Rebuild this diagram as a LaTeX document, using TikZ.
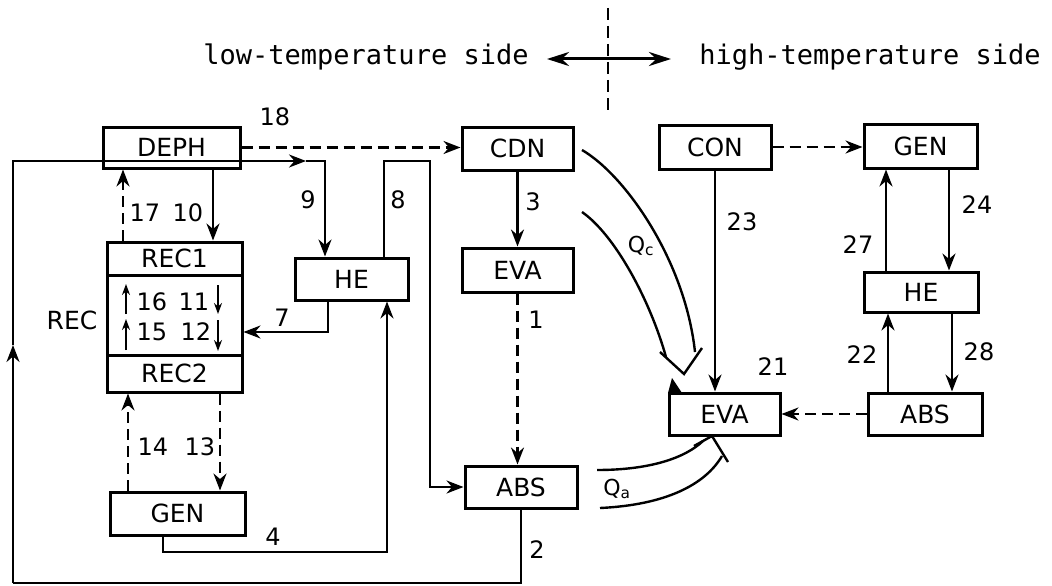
\documentclass[tikz,border=0pt]{standalone}
\usepackage{fontspec}
\setmainfont{DejaVu Sans}
\newfontfamily\monofont{DejaVu Sans Mono}
\usetikzlibrary{arrows.meta}
\begin{document}
\begin{tikzpicture}[x=1pt,y=-1pt,
  box/.style={draw, line width=3pt, inner sep=0pt, font=\fontsize{25}{25}\selectfont},
  num/.style={inner sep=0pt, font=\fontsize{24}{24}\selectfont},
  qlab/.style={inner sep=0pt, font=\fontsize{22}{22}\selectfont},
  toptext/.style={inner sep=0pt, anchor=base, font=\monofont\fontsize{27}{27}\selectfont},
  ln/.style={line width=2.4pt},
  arr/.style={ln, -{Stealth[length=17pt,width=13pt]}},
  darr/.style={arr, dash pattern=on 11pt off 6pt},
  sarr/.style={line width=2pt, -{Stealth[length=11pt,width=8pt]}},
]
\fill[white] (0,0) rectangle (1052,586);
\useasboundingbox (0,0) rectangle (1052,586);

% header
\node[toptext] (lowtxt) at (366,65) {low-temperature side};
\node[toptext] (hightxt) at (870,65) {high-temperature side};
\coordinate (divT) at (608,8);
\coordinate (divB) at (608,110);
\draw[ln, dash pattern=on 12pt off 6pt] (divT) -- (divB);
\coordinate (sideL) at (547,59);
\coordinate (sideR) at (671,59);
\draw[line width=3pt, {Stealth[length=22pt,width=14pt]}-{Stealth[length=22pt,width=14pt]}] (sideL) -- (sideR);

% low-temperature side boxes
\node[box, minimum width=137pt, minimum height=41pt] (deph) at (171.5,147.5) {DEPH};
\node[box, minimum width=135pt, minimum height=33pt] (rec1) at (174.5,258.5) {REC1};
\node[box, minimum width=135pt, minimum height=80pt] (recm) at (174.5,315) {};
\node[box, minimum width=135pt, minimum height=37pt] (rec2) at (174.5,373.5) {REC2};
\node[box, minimum width=135pt, minimum height=43pt] (genL) at (177.5,513.5) {GEN};
\node[box, minimum width=113pt, minimum height=42pt] (heL) at (351.5,279) {HE};
\node[box, minimum width=111pt, minimum height=43pt] (cdn) at (517.5,148.5) {CDN};
\node[box, minimum width=111pt, minimum height=44pt] (evaL) at (517.5,270) {EVA};
\node[box, minimum width=112pt, minimum height=42pt] (absL) at (521,487) {ABS};

% high-temperature side boxes
\node[box, minimum width=112pt, minimum height=44pt] (con) at (715,147) {CON};
\node[box, minimum width=111pt, minimum height=42pt] (evaH) at (724.5,414) {EVA};
\node[box, minimum width=113pt, minimum height=44pt] (genH) at (920.5,146) {GEN};
\node[box, minimum width=114pt, minimum height=40pt] (heH) at (921,292) {HE};
\node[box, minimum width=114pt, minimum height=42pt] (absH) at (925,414) {ABS};

% labels
\node[num] (n18) at (275,117) {18};
\node[num] (n9) at (308,200) {9};
\node[num] (n8) at (398,200) {8};
\node[num] (n17) at (145,213) {17};
\node[num] (n10) at (188,213) {10};
\node[num] (n16) at (152,302) {16};
\node[num] (n11) at (194,302) {11};
\node[num] (n15) at (152,332) {15};
\node[num] (n12) at (196,332) {12};
\node[box, draw=none] (nrec) at (72,320) {REC};
\node[num] (n7) at (282,318) {7};
\node[num] (n14) at (153,447) {14};
\node[num] (n13) at (200,447) {13};
\node[num] (n4) at (273,537) {4};
\node[num] (n2) at (537,550) {2};
\node[num] (n3) at (533,202) {3};
\node[num] (n1) at (536,320) {1};
\node[num] (n23) at (742,222) {23};
\node[num] (n21) at (773,367) {21};
\node[num] (n24) at (977,205) {24};
\node[num] (n27) at (858,245) {27};
\node[num] (n28) at (979,352) {28};
\node[num] (n22) at (862,355) {22};
\node[qlab] (qc) at (641,246) {Q\textsubscript{c}};
\node[qlab] (qa) at (617,489) {Q\textsubscript{a}};

% low side connectors
\draw[darr] (deph.east) -- (deph.east -| cdn.west);
\coordinate (lpBL) at (13,583);
\coordinate (lpUp) at (13,345);
\coordinate (lpTL) at (13,161);
\coordinate (lpMid) at (306,161);
\coordinate (lpTR) at (325,161);
\draw[ln] (absL.south) |- (lpBL);
\draw[arr] (lpBL) -- (lpUp);
\draw[arr] (lpUp) -- (lpTL) -- (lpMid);
\draw[arr] (lpMid) -| (heL.north -| lpTR);

\coordinate (s8top) at (430,161);
\draw[arr] (heL.north -| 384,0) |- (s8top) |- (absL.west);
\draw[arr] (heL.south -| 328,0) |- (recm.east |- 0,332);
\coordinate (s4bot) at (387,552);
\draw[arr] (genL.south -| 163,0) |- (s4bot) -- (heL.south -| s4bot);

\draw[arr] (deph.south -| 213,0) -- (rec1.north -| 213,0);
\draw[darr] (rec1.north -| 123,0) -- (deph.south -| 123,0);
\draw[darr] (genL.north -| 128,0) -- (rec2.south -| 128,0);
\draw[darr] (rec2.south -| 220,0) -- (genL.north -| 220,0);

% arrows inside REC
\coordinate (a16s) at (126,314); \coordinate (a16e) at (126,284);
\coordinate (a15s) at (126,350); \coordinate (a15e) at (126,319);
\coordinate (a11s) at (218,285); \coordinate (a11e) at (218,314);
\coordinate (a12s) at (218,320); \coordinate (a12e) at (218,351);
\draw[sarr] (a16s) -- (a16e);
\draw[sarr] (a15s) -- (a15e);
\draw[sarr] (a11s) -- (a11e);
\draw[sarr] (a12s) -- (a12e);

\draw[arr] (cdn.south) -- (cdn.south |- evaL.north);
\draw[darr] (evaL.south) -- (evaL.south |- absL.north);

% high side connectors
\draw[darr] (con.east) -- (con.east -| genH.west);
\draw[arr] (con.south) -- (con.south |- evaH.north);
\draw[arr] (genH.south -| 949,0) -- (heH.north -| 949,0);
\draw[arr] (heH.north -| 886,0) -- (genH.south -| 886,0);
\draw[arr] (heH.south -| 952,0) -- (absH.north -| 952,0);
\draw[arr] (absH.north -| 888,0) -- (heH.south -| 888,0);
\draw[darr] (absH.west) -- (evaH.east);

% heat flows Qc and Qa
\coordinate (qco1) at (582,150); \coordinate (qco2) at (695,352);
\coordinate (qci1) at (582,212); \coordinate (qci2) at (666,357);
\draw[ln] (qco1) .. controls (625,175) and (685,260) .. (qco2);
\draw[ln] (qci1) .. controls (615,235) and (650,300) .. (qci2);
\coordinate (qcv1) at (660,352); \coordinate (qcv2) at (684,374); \coordinate (qcv3) at (702,348);
\draw[ln] (qcv1) -- (qcv2) -- (qcv3);
\fill (668,393) -- (672,378) -- (682,393) -- cycle;

\coordinate (qau1) at (597,470); \coordinate (qau2) at (703,441);
\coordinate (qal1) at (600,508); \coordinate (qal2) at (722,456);
\draw[ln] (qau1) .. controls (650,470) and (685,458) .. (qau2);
\draw[ln] (qal1) .. controls (665,505) and (705,485) .. (qal2);
\coordinate (qav1) at (694,446); \coordinate (qav2) at (712,436); \coordinate (qav3) at (728,462);
\draw[ln] (qav1) -- (qav2) -- (qav3);
\end{tikzpicture}
\end{document}
